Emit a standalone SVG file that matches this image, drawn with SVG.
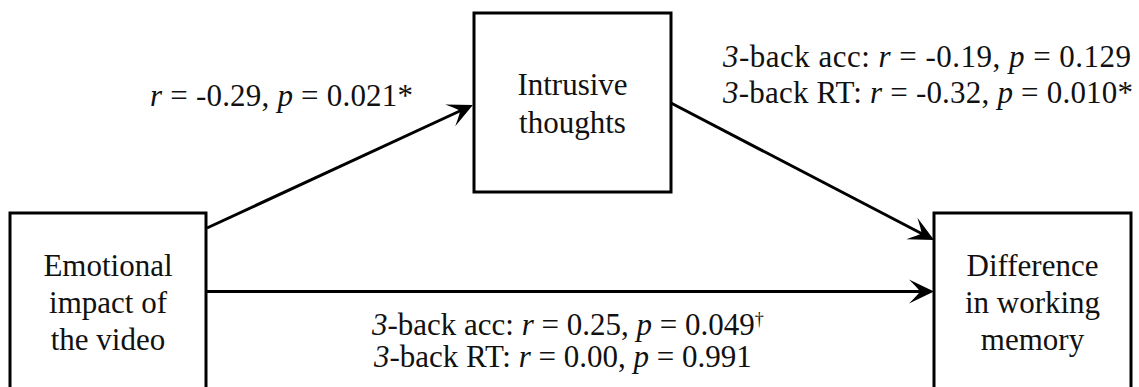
<svg xmlns="http://www.w3.org/2000/svg" width="1139" height="387" viewBox="0 0 1139 387">
<style>
.box{fill:#fff;stroke:#000;stroke-width:3}
.conn{stroke:#000;stroke-width:3;fill:none}
text{font-family:"Liberation Serif","Times New Roman",serif;font-size:31px;fill:#111}
.c{text-anchor:middle}
.i{font-style:italic}
</style>
<defs>
<marker id="ah" markerUnits="userSpaceOnUse" viewBox="-14 -14 28 28" markerWidth="28" markerHeight="28" refX="0" refY="0" orient="auto">
<path d="M12,0 L-13,-12 Q-4,-3 -2,0 Q-4,3 -13,12 Z" fill="#000"/>
</marker>
</defs>
<g id="connectors">
<line class="conn" x1="207" y1="228" x2="462" y2="110" marker-end="url(#ah)"/>
<line class="conn" x1="671" y1="103" x2="923.4" y2="234.5" marker-end="url(#ah)"/>
<line class="conn" x1="206" y1="291.5" x2="922" y2="291.5" marker-end="url(#ah)"/>
</g>
<g id="node-emotional">
<rect class="box" x="10" y="213" width="196" height="200"/>
<text class="c" x="108" y="276">Emotional</text>
<text class="c" x="108" y="313">impact of</text>
<text class="c" x="108" y="350">the video</text>
</g>
<g id="node-intrusive">
<rect class="box" x="474" y="13" width="197" height="179"/>
<text class="c" x="572.5" y="95">Intrusive</text>
<text class="c" x="572.5" y="133">thoughts</text>
</g>
<g id="node-difference">
<rect class="box" x="934" y="213" width="197" height="200"/>
<text class="c" x="1032.5" y="276">Difference</text>
<text class="c" x="1032.5" y="313">in working</text>
<text class="c" x="1032.5" y="350">memory</text>
</g>
<g id="labels">
<text x="150" y="106" textLength="263" lengthAdjust="spacing"><tspan class="i">r</tspan> = -0.29,  <tspan class="i">p</tspan> = 0.021*</text>
<text x="723" y="67" textLength="408" lengthAdjust="spacing"><tspan class="i">3</tspan>-back acc: <tspan class="i">r</tspan> = -0.19, <tspan class="i">p</tspan> = 0.129</text>
<text x="723" y="103" textLength="410" lengthAdjust="spacing"><tspan class="i">3</tspan>-back RT: <tspan class="i">r</tspan> = -0.32, <tspan class="i">p</tspan> = 0.010*</text>
<text x="372" y="335"><tspan class="i">3</tspan>-back acc: <tspan class="i">r</tspan> = 0.25, <tspan class="i">p</tspan> = 0.049<tspan font-size="18" dy="-10">†</tspan></text>
<text x="374" y="367"><tspan class="i">3</tspan>-back RT: <tspan class="i">r</tspan> = 0.00, <tspan class="i">p</tspan> = 0.991</text>
</g>
</svg>
